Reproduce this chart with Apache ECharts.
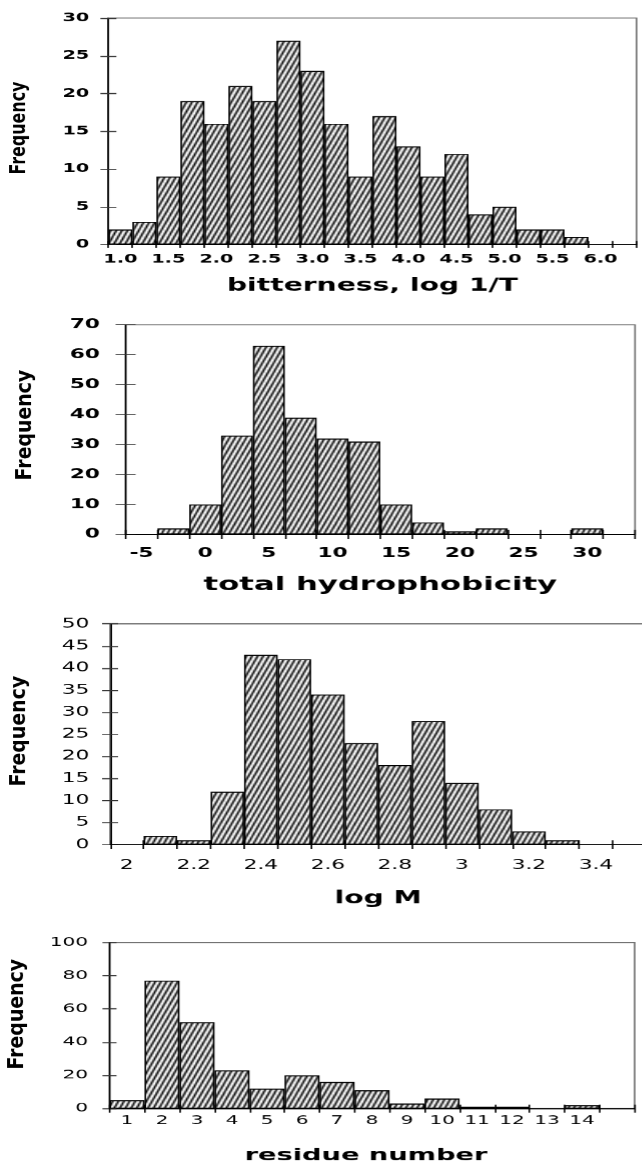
<!DOCTYPE html>
<html><head><meta charset="utf-8">
<script src="https://cdn.jsdelivr.net/npm/echarts@6/dist/echarts.min.js"></script>
<style>
html,body{margin:0;padding:0;background:#fff;overflow:hidden;}
#main{width:401.25px;height:1169px;transform:scaleX(1.6);transform-origin:0 0;}
</style>
</head><body><div id="main"></div>
<script>
// ---- data ----
const bitternessBins = ['1.0','1.25','1.5','1.75','2.0','2.25','2.5','2.75','3.0','3.25','3.5','3.75','4.0','4.25','4.5','4.75','5.0','5.25','5.5','5.75','6.0','6.25'];
const bitternessFreq = [2,3,9,19,16,21,19,27,23,16,9,17,13,9,12,4,5,2,2,1,0,0];

const hydroBins = ['-5','-2.5','0','2.5','5','7.5','10','12.5','15','17.5','20','22.5','25','27.5','30','32.5'];
const hydroFreq = [0,2,10,33,63,39,32,31,10,4,1,2,0,0,2,0];

const logMBins = ['2','2.1','2.2','2.3','2.4','2.5','2.6','2.7','2.8','2.9','3','3.1','3.2','3.3','3.4','3.5'];
const logMFreq = [0,2,1,12,43,42,34,23,18,28,14,8,3,1,0,0];

const residueBins = ['1','2','3','4','5','6','7','8','9','10','11','12','13','14','15'];
const residueFreq = [5,77,52,23,12,20,16,11,3,6,1,1,0,2,0];

const axisTitles = ['bitterness, log 1/T','total hydrophobicity','log M','residue number'];
const yAxisName = 'Frequency';
const yMax = [30,70,50,100];
const yStep = [5,10,5,20];

// ---- layout ----
const S = 1.6;          // horizontal stretch of the whole figure
const DPR = 1.6;        // canvas pixel ratio -> 1:1 horizontal device pixels after stretch
const W = 642 / S;
const FONT = '"DejaVu Sans", "Liberation Sans", Arial, sans-serif';

const panels = [
  {cats: bitternessBins, vals: bitternessFreq, left:108.3, rightEdge:636.3, top:18, height:226.5,
   labelInterval:1, labelSize:12, labelWeight:'bold', xMargin:9, yMargin:12, nameGap:32.5, nameSize:17.6,
   yTick:5, xTick:3.5, namePad:[0,0,0,0], freq:{x:19.4, y:128, size:15.9, k:1.3}},
  {cats: hydroBins, vals: hydroFreq, left:125.5, rightEdge:634.8, top:324.7, height:209.6,
   labelInterval:1, labelSize:13.5, labelWeight:'bold', xMargin:12.25, yMargin:16, nameGap:41, nameSize:19.2,
   yTick:6.25, xTick:4.5, namePad:[0,0,0,0], freq:{x:25.6, y:425, size:18.9, k:1.1}},
  {cats: logMBins, vals: logMFreq, left:110, rightEdge:646, top:623.7, height:220.8,
   labelInterval:1, labelSize:13.5, labelWeight:'normal', xMargin:13.75, yMargin:13, nameGap:45, nameSize:17.6,
   yTick:5, xTick:4.3, namePad:[0,0,0,0], freq:{x:20, y:731, size:18.9, k:1.1}},
  {cats: residueBins, vals: residueFreq, left:109.4, rightEdge:634.4, top:942.3, height:166,
   labelInterval:(i)=>i<14, labelSize:12.5, labelWeight:'normal', xMargin:5.5, yMargin:13.4, nameGap:39, nameSize:17,
   yTick:4.4, xTick:4, namePad:[0,7.5,0,0], freq:{x:18, y:1014, size:18.9, k:1.1}}
];

// diagonal hatch tile (7 x 19 px, two "/" lines per tile)
function makeHatch() {
  const c = document.createElement('canvas');
  const tw = 7, th = 19;
  c.width = tw; c.height = th;
  const g = c.getContext('2d');
  g.fillStyle = '#fff'; g.fillRect(0, 0, tw, th);
  g.strokeStyle = '#000'; g.lineWidth = 1.3;
  for (let k = -2; k <= 3; k++) {
    const x0 = k * tw / 2;
    g.beginPath();
    g.moveTo(x0 - tw, 2 * th); g.lineTo(x0 + 2 * tw, -th);
    g.stroke();
  }
  return c;
}
const hatch = makeHatch();

const grids = [], xAxes = [], yAxes = [], series = [], graphics = [];
panels.forEach((p, i) => {
  grids.push({left: p.left / S, right: W - p.rightEdge / S, top: p.top, height: p.height,
    show: true, borderColor: '#6a6a6a', borderWidth: 1, backgroundColor: 'transparent', outerBoundsMode: 'none'});
  xAxes.push({
    gridIndex: i, type: 'category', data: p.cats, boundaryGap: true, position: 'bottom',
    axisLine: {show: true, lineStyle: {color: '#000', width: 1}},
    axisTick: {show: true, interval: 0, length: p.xTick, lineStyle: {color: '#000'}},
    axisLabel: {interval: p.labelInterval, margin: p.xMargin, color: '#000',
      fontFamily: FONT, fontSize: p.labelSize, fontWeight: p.labelWeight},
    name: axisTitles[i], nameLocation: 'middle', nameGap: p.nameGap,
    nameTextStyle: {color: '#000', fontFamily: FONT, fontSize: p.nameSize, fontWeight: 'bold', padding: p.namePad},
    splitLine: {show: false}
  });
  xAxes.push({
    gridIndex: i, type: 'category', data: p.cats, boundaryGap: true, position: 'bottom', offset: 0,
    axisLine: {show: false},
    axisTick: {show: true, inside: true, interval: 0, length: p.xTick, lineStyle: {color: '#000'}},
    axisLabel: {show: false}, splitLine: {show: false}
  });
  yAxes.push({
    gridIndex: i, type: 'value', min: 0, max: yMax[i], interval: yStep[i], position: 'left',
    axisLine: {show: true, lineStyle: {color: '#000', width: 1}},
    axisTick: {show: true, length: p.yTick, lineStyle: {color: '#333'}},
    axisLabel: {margin: p.yMargin, color: '#000', fontFamily: FONT, fontSize: p.labelSize, fontWeight: p.labelWeight},
    splitLine: {show: false}
  });
  yAxes.push({
    gridIndex: i, type: 'value', min: 0, max: yMax[i], interval: yStep[i], position: 'left', offset: 0,
    axisLine: {show: false},
    axisTick: {show: true, inside: true, length: p.yTick, lineStyle: {color: '#333'}},
    axisLabel: {show: false}, splitLine: {show: false}
  });
  series.push({
    type: 'bar', xAxisIndex: 2 * i, yAxisIndex: 2 * i, data: p.vals,
    barCategoryGap: '0%', barGap: '0%', silent: true,
    itemStyle: {color: {image: hatch, repeat: 'repeat'},
      borderColor: '#000', borderWidth: 1}
  });
  graphics.push({
    type: 'text', x: p.freq.x / S, y: p.freq.y, rotation: Math.PI / 2, scaleY: p.freq.k / S,
    style: {text: yAxisName, fill: '#000', font: 'bold ' + p.freq.size + 'px ' + FONT,
      align: 'center', verticalAlign: 'middle'}
  });
});

const chart = echarts.init(document.getElementById('main'), null, {renderer: 'canvas', devicePixelRatio: DPR});
chart.setOption({
  animation: false,
  grid: grids, xAxis: xAxes, yAxis: yAxes, series: series, graphic: graphics
});
</script>
</body></html>
